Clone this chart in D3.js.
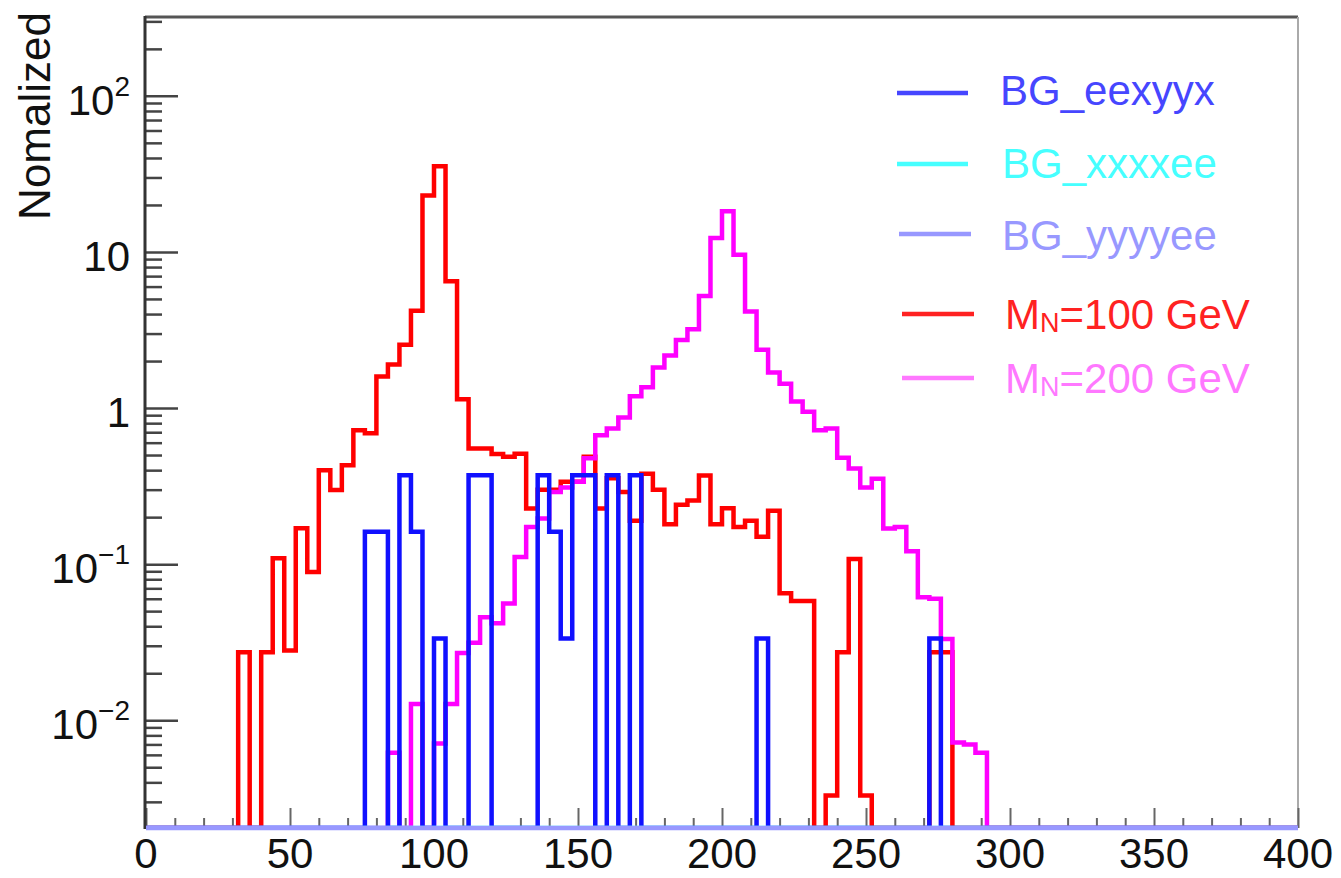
<!DOCTYPE html>
<html><head><meta charset="utf-8">
<script src="https://cdn.jsdelivr.net/npm/d3@7"></script>
<style>
body{margin:0;background:#fff}
svg{display:block}
text{font-family:"Liberation Sans",Arial,Helvetica,sans-serif}
</style>
</head><body>
<svg id="c" width="1341" height="878"></svg>
<script>
// ---------------- data ----------------
const binWidth = 4;
const binStarts = d3.range(0, 400, binWidth); // 100 bins, 0..400 GeV

const sigM100 = [
  0,0,0,0,0,0,0,0,0.0273,0,
  0.0273,0.109,0.028,0.170,0.089,0.40,0.298,0.43,0.72,0.69,
  1.59,1.90,2.54,4.2,23.0,35.4,6.5,1.14,0.551,0.551,
  0.507,0.487,0.51,0.227,0.30,0.30,0.337,0.337,0.487,0.227,
  0.355,0.29,0.19,0.38,0.30,0.18,0.24,0.256,0.37,0.18,
  0.228,0.173,0.19,0.15,0.22,0.065,0.058,0.058,0,0.0033,
  0.0273,0.108,0.0033,0,0,0,0,0,0.0273,0.0273,
  0,0,0,0,0,0,0,0,0,0,
  0,0,0,0,0,0,0,0,0,0,
  0,0,0,0,0,0,0,0,0,0
];
const sigM200 = [
  0,0,0,0,0,0,0,0,0,0,
  0,0,0,0,0,0,0,0,0,0,
  0,0.0062,0,0.0127,0,0.0071,0.0127,0.027,0.0314,0.0457,
  0.0418,0.056,0.111,0.173,0.196,0.29,0.31,0.337,0.476,0.67,
  0.74,0.87,1.19,1.36,1.82,2.17,2.73,3.2,5.23,12.3,
  18.2,9.6,4.15,2.36,1.69,1.43,1.10,0.946,0.72,0.74,
  0.48,0.41,0.31,0.353,0.169,0.173,0.121,0.0614,0.060,0.0332,
  0.0072,0.0070,0.0062,0,0,0,0,0,0,0,
  0,0,0,0,0,0,0,0,0,0,
  0,0,0,0,0,0,0,0,0,0
];
const bgEexyyx = [
  0,0,0,0,0,0,0,0,0,0,
  0,0,0,0,0,0,0,0,0,0.161,
  0.161,0,0.371,0.161,0,0.0334,0,0,0.371,0.371,
  0,0,0,0,0.371,0.161,0.0334,0.371,0.371,0,
  0.371,0,0.371,0,0,0,0,0,0,0,
  0,0,0,0.0334,0,0,0,0,0,0,
  0,0,0,0,0,0,0,0,0.0334,0,
  0,0,0,0,0,0,0,0,0,0,
  0,0,0,0,0,0,0,0,0,0,
  0,0,0,0,0,0,0,0,0,0
];
const bgXxxxee = [
  0,0,0,0,0,0,0,0,0,0, 0,0,0,0,0,0,0,0,0,0,
  0,0,0,0,0,0,0,0,0,0, 0,0,0,0,0,0,0,0,0,0,
  0,0,0,0,0,0,0,0,0,0, 0,0,0,0,0,0,0,0,0,0,
  0,0,0,0,0,0,0,0,0,0, 0,0,0,0,0,0,0,0,0,0,
  0,0,0,0,0,0,0,0,0,0, 0,0,0,0,0,0,0,0,0,0
];
const bgYyyyee = [
  0,0,0,0,0,0,0,0,0,0, 0,0,0,0,0,0,0,0,0,0,
  0,0,0,0,0,0,0,0,0,0, 0,0,0,0,0,0,0,0,0,0,
  0,0,0,0,0,0,0,0,0,0, 0,0,0,0,0,0,0,0,0,0,
  0,0,0,0,0,0,0,0,0,0, 0,0,0,0,0,0,0,0,0,0,
  0,0,0,0,0,0,0,0,0,0, 0,0,0,0,0,0,0,0,0,0
];

const xTickLabels = ["0","50","100","150","200","250","300","350","400"];
const xTickValues = [0,50,100,150,200,250,300,350,400];
const yTickValues = [100, 10, 1, 0.1, 0.01];
const yTickBase = ["10","10","1","10","10"];
const yTickExp  = ["2","","","\u22121","\u22122"];
const yTitle = "Nomalized";

const legendLabels = ["BG_eexyyx","BG_xxxxee","BG_yyyyee","M|N|=100 GeV","M|N|=200 GeV"];
const legendColors = ["#4646ff","#46ffff","#9898ff","#ff2222","#ff78ff"];

// ---------------- layout ----------------
const svg = d3.select("#c");
const x = d3.scaleLinear().domain([0, 400]).range([146, 1298]);
const y = d3.scaleLog().domain([0.00204, 320]).range([828, 17]);
const yBot = y.range()[0];
const yMin = y.domain()[0];

svg.append("defs").append("clipPath").attr("id","pc")
  .append("rect").attr("x",146).attr("y",17).attr("width",1152).attr("height",813);

// frame
svg.append("line").attr("x1",145).attr("x2",1298).attr("y1",17).attr("y2",17)
  .attr("stroke","#555").attr("stroke-width",3);
svg.append("line").attr("x1",1298).attr("x2",1298).attr("y1",17).attr("y2",828)
  .attr("stroke","#aaa").attr("stroke-width",2);

// y ticks (majors and minors)
const yMinor = [];
[0.001,0.01,0.1,1,10,100].forEach(d => {
  [2,3,4,5,6,7,8,9].forEach(m => { const v = d*m; if (v > yMin*1.02 && v < 320) yMinor.push(v); });
});
const yAxMinor = d3.axisRight(y).tickValues(yMinor).tickSize(17).tickFormat("");
const yAxMajor = d3.axisRight(y).tickValues(yTickValues).tickSize(33).tickFormat("");
[yAxMinor, yAxMajor].forEach(ax => {
  const g = svg.append("g").attr("transform","translate(145,0)").call(ax);
  g.select(".domain").remove();
  g.selectAll("line").attr("stroke","#444").attr("stroke-width",2.5);
});

// x ticks
const xMinor = d3.range(10, 400, 10).filter(v => v % 50 !== 0);
const xAxMinor = d3.axisTop(x).tickValues(xMinor).tickSize(10).tickFormat("");
const xAxMajor = d3.axisTop(x).tickValues(xTickValues).tickSize(20).tickFormat("");
[xAxMinor, xAxMajor].forEach(ax => {
  const g = svg.append("g").attr("transform","translate(0,828)").call(ax);
  g.select(".domain").remove();
  g.selectAll("line").attr("stroke","#666").attr("stroke-width",2);
});

// histograms
function stepPath(vals) {
  const pts = [[x(0), yBot]];
  vals.forEach((v, i) => {
    const yy = v > yMin ? y(v) : yBot;
    pts.push([x(binStarts[i]), yy], [x(binStarts[i] + binWidth), yy]);
  });
  pts.push([x(400), yBot]);
  return d3.line()(pts);
}
const hg = svg.append("g").attr("clip-path","url(#pc)");
const series = [
  {vals: sigM100, color:"#ff0000", w:4.5},
  {vals: sigM200, color:"#ff00ff", w:4.5},
  {vals: bgEexyyx, color:"#1010ff", w:4.5},
  {vals: bgXxxxee, color:"#46ffff", w:4.5},
];
series.forEach(s => {
  hg.append("path").attr("d", stepPath(s.vals)).attr("fill","none")
    .attr("stroke", s.color).attr("stroke-width", s.w).attr("stroke-linejoin","miter");
});
// left axis line
svg.append("line").attr("x1",145).attr("x2",145).attr("y1",16).attr("y2",829)
  .attr("stroke","#333").attr("stroke-width",3);
// BG_yyyyee on the baseline (drawn last so it covers the x axis line)
svg.append("path").attr("d", stepPath(bgYyyyee)).attr("fill","none")
  .attr("stroke","#9898ff").attr("stroke-width",4.5);

// x tick labels
svg.append("g").selectAll("text").data(xTickValues).join("text")
  .attr("x", d => x(d)).attr("y", 868).attr("text-anchor","middle")
  .attr("font-size", 42).attr("fill","#111")
  .text((d,i) => xTickLabels[i]);

// y tick labels
yTickValues.forEach((v, i) => {
  const t = svg.append("text").attr("x", 130).attr("y", y(v) + 19)
    .attr("text-anchor","end").attr("font-size",42).attr("fill","#111");
  t.append("tspan").text(yTickBase[i]);
  if (yTickExp[i]) {
    t.append("tspan").attr("font-size",28).attr("dy",-19).text(yTickExp[i]);
  }
});

// y title
svg.append("text").attr("transform","translate(50,12) rotate(-90)")
  .attr("text-anchor","end").attr("font-size",44).attr("fill","#111").text(yTitle);

// legend
const legLineY = [93, 164, 234, 314, 378];
const legTextY = [105, 178, 250, 329, 393];
const legLineX = [[897,968],[897,968],[899,971],[902,974],[902,974]];
const legTextX = [1000, 1002, 1002, 1005, 1005];
legendLabels.forEach((lab, i) => {
  svg.append("line").attr("x1", legLineX[i][0]).attr("x2", legLineX[i][1])
    .attr("y1", legLineY[i]).attr("y2", legLineY[i])
    .attr("stroke", legendColors[i]).attr("stroke-width", 4.5);
  const t = svg.append("text").attr("x", legTextX[i]).attr("y", legTextY[i])
    .attr("font-size", 42).attr("fill", legendColors[i]);
  const parts = lab.split("|");
  if (parts.length === 3) {
    t.append("tspan").text(parts[0]);
    t.append("tspan").attr("font-size", 27).attr("dy", 3).text(parts[1]);
    t.append("tspan").attr("dy", -3).text(parts[2]);
  } else {
    t.text(lab);
  }
});
</script>
</body></html>
